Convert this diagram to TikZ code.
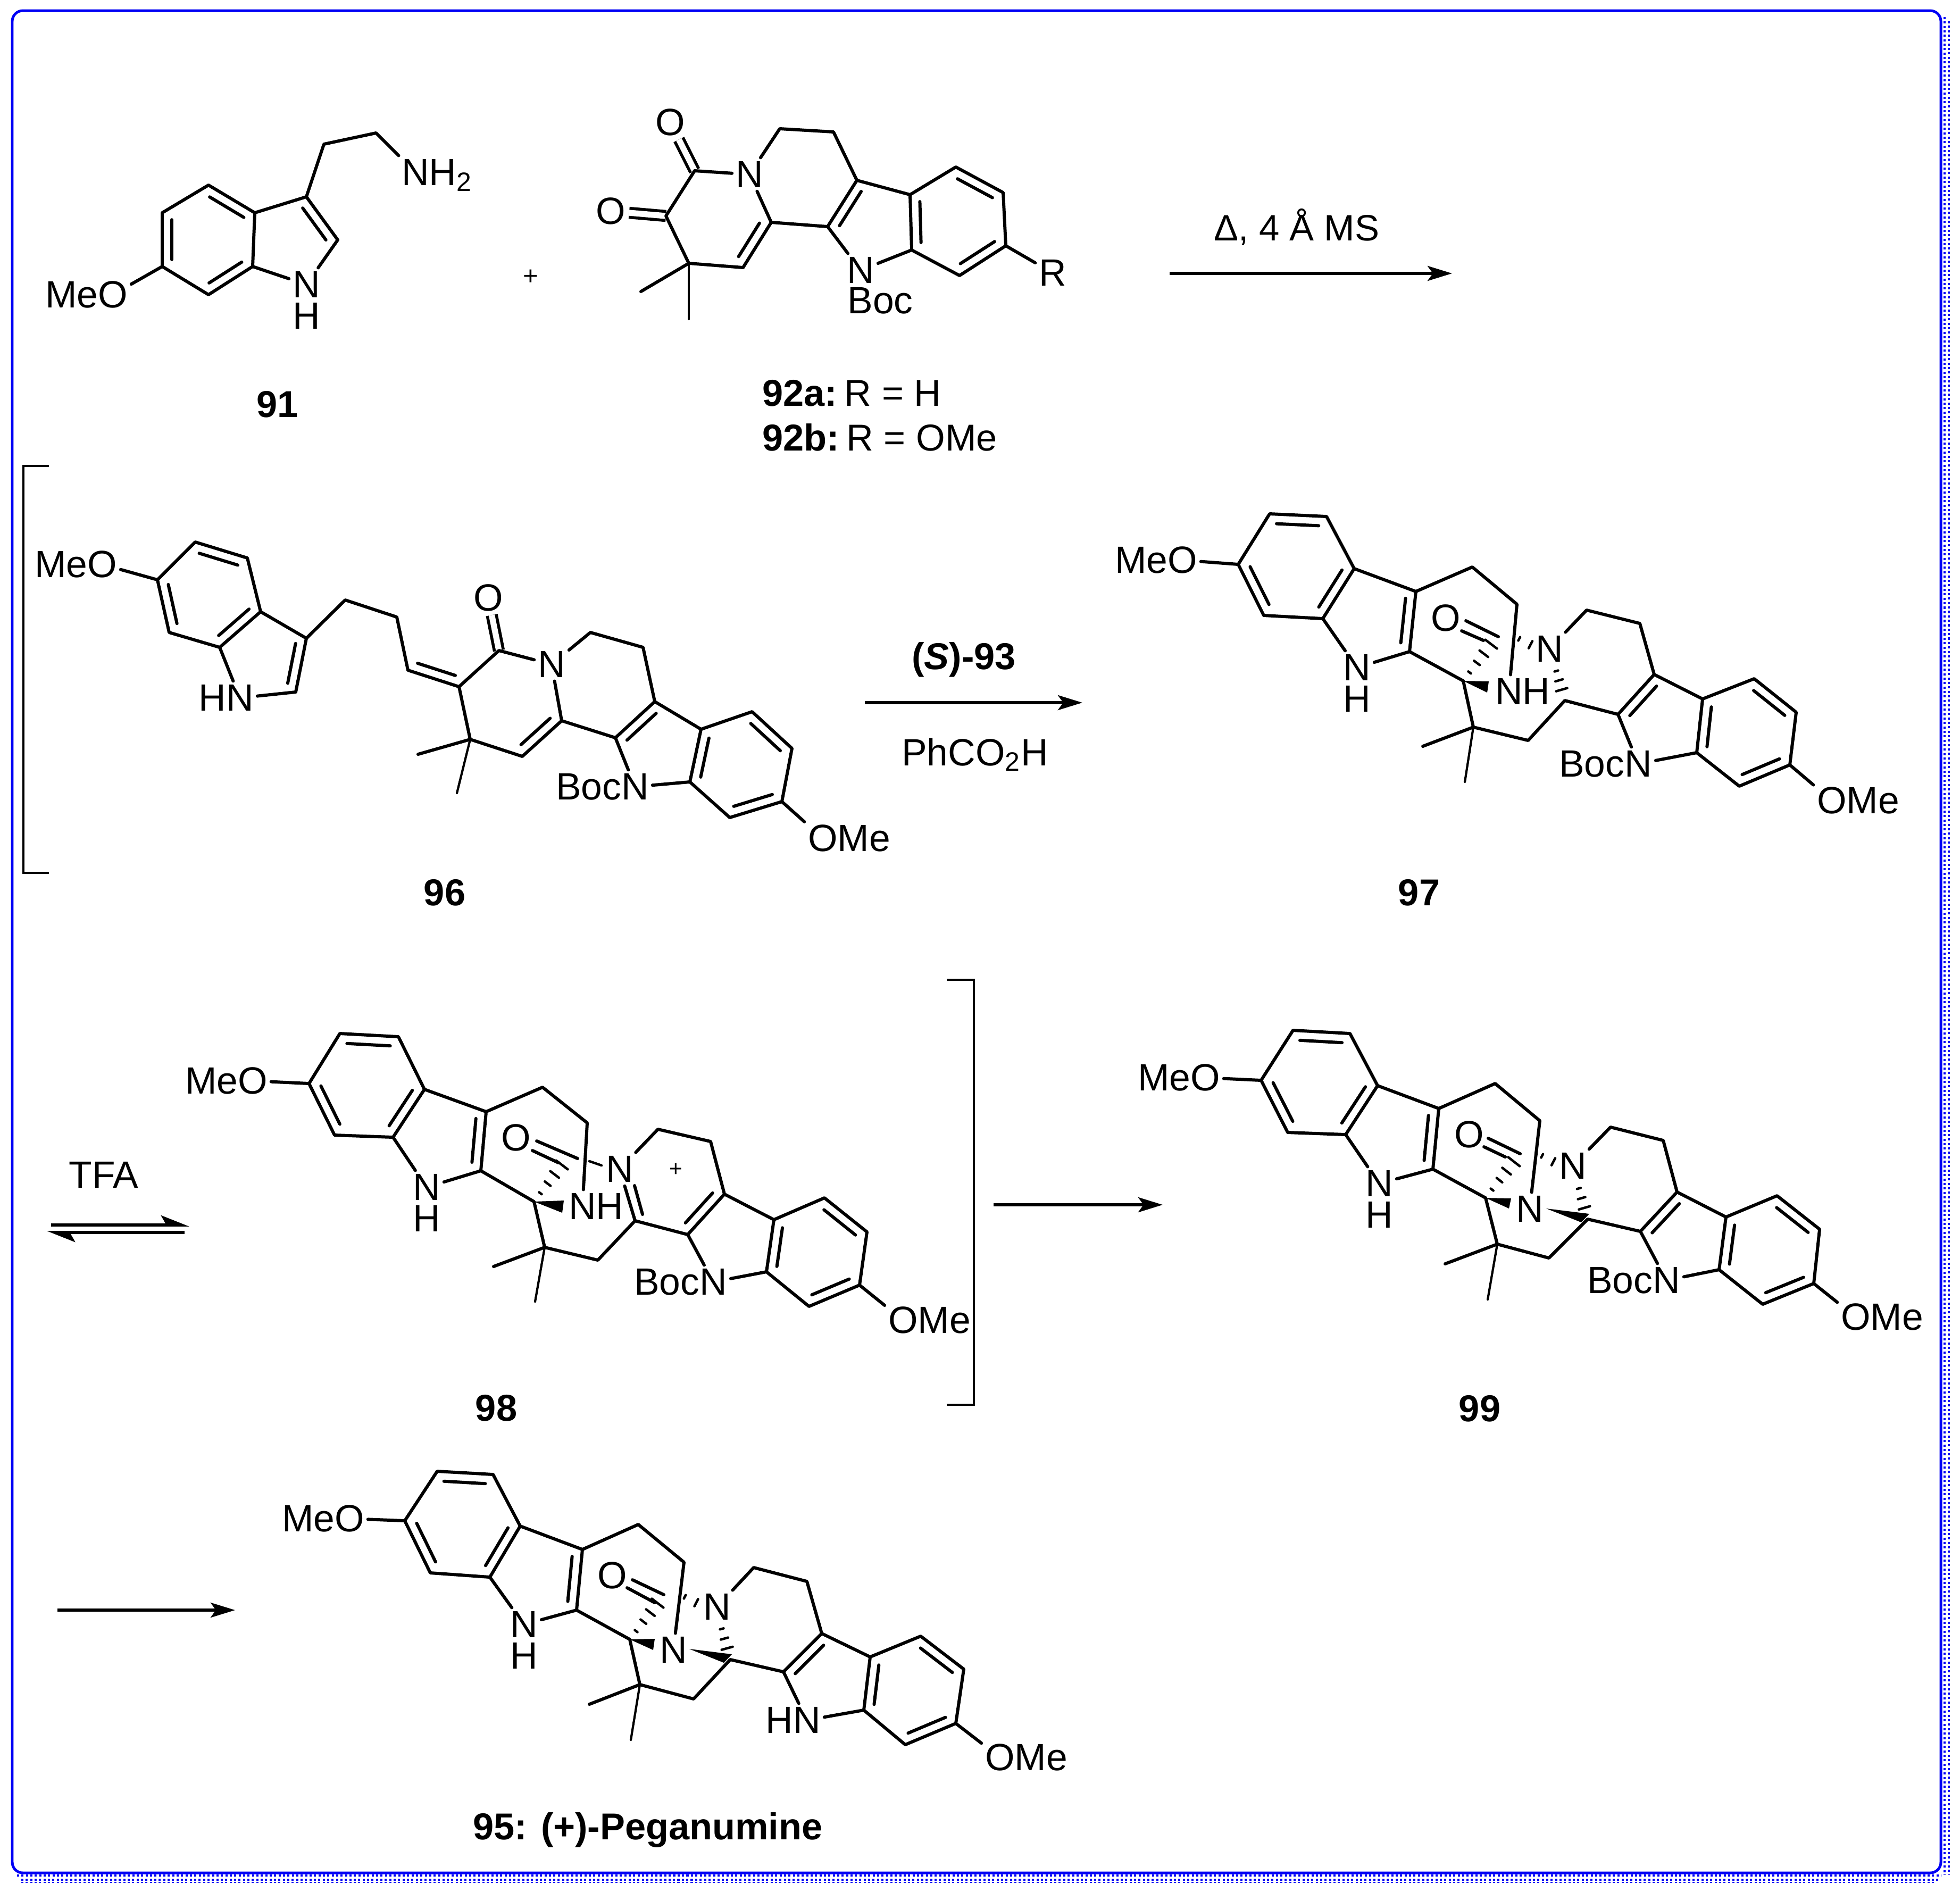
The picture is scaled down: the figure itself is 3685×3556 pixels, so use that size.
\documentclass[tikz,border=0pt]{standalone}
\usepackage{fontspec}
\setmainfont{Liberation Sans}
\usetikzlibrary{arrows.meta,calc,positioning}
\definecolor{frameblue}{RGB}{0,0,245}
\tikzset{
  bond/.style={line width=1.7pt, line cap=round, line join=round},
  thinbond/.style={line width=1.2pt, line cap=round},
  oxo/.style={line width=1.6pt, double, double distance=3.2pt},
  hashbond/.style={line width=1.3pt, line cap=round},
  atom/.style={font=\fontsize{20.3}{24}\selectfont, inner sep=.07cm, outer sep=0pt},
  tag/.style={font=\fontsize{20.3}{24}\selectfont, inner sep=0pt, outer sep=0pt},
  cpd/.style={font=\fontsize{20}{24}\selectfont\bfseries, inner sep=0pt},
  reagent/.style={font=\fontsize{20.3}{24}\selectfont, inner sep=0pt, anchor=base},
  charge/.style={font=\fontsize{12}{14}\selectfont, inner sep=0pt},
  rxn/.style={line width=1.5pt, -{Stealth[length=.46cm, width=.28cm, inset=.1cm]}},
  eqm/.style={line width=1.6pt, -{Stealth[harpoon, length=.46cm, width=.36cm, inset=.1cm]}},
  brack/.style={line width=1.3pt},
  frame/.style={draw=frameblue, line width=1.42pt, rounded corners=.2cm},
  dots/.style={draw=frameblue, line width=1.14pt, dash pattern=on 1.14pt off 1.23pt}
}
\newcommand{\inbond}[2]{\draw[bond] ($(#1)!.13!(#2)!.18cm!90:(#2)$) -- ($(#2)!.13!(#1)!.18cm!-90:(#1)$);}
\newcommand{\hashes}[3]{\foreach \t in {#3}{\pgfmathsetmacro{\w}{\t*.15}
  \draw[hashbond] ($(#1)!\t!(#2)!\w cm!90:(#2)$) -- ($(#1)!\t!(#2)!\w cm!-90:(#2)$);}}
\begin{document}
\begin{tikzpicture}[x=.01cm, y=-.01cm]
\useasboundingbox (0,0) rectangle (3685,3556);
% frame
\draw[frame] (23,20) rectangle (3649,3521);
\draw[dots] (3656,32) -- (3656,3525);
\draw[dots] (3664,40) -- (3664,3525);
\draw[dots] (32,3526) -- (3650,3526);
\draw[dots] (40,3534) -- (3645,3534);
\draw[dots, line width=.6pt] (40,3539) -- (3640,3539);

% 91
\coordinate (91a) at (392,348); \coordinate (91b) at (479,400); \coordinate (91c) at (475,501);
\coordinate (91d) at (392,554); \coordinate (91e) at (305,501); \coordinate (91f) at (305,400);
\coordinate (91g) at (576,370); \coordinate (91h) at (635,451); \coordinate (91i) at (609,271);
\coordinate (91j) at (707,250);
\node[atom] (91N) at (576,535) {N};
\node[tag, below=.03cm of 91N] (91H) {H};
\node[atom] (91A) at (781,324) {N};
\node[tag, base right=-.07cm of 91A] (91B) {H\textsubscript{2}};
\node[atom] (91O) at (212,554) {O};
\node[tag, base left=-.07cm of 91O] (91Me) {Me};
\draw[bond] (91a) -- (91b) -- (91c) -- (91d) -- (91e) -- (91f) -- cycle;
\draw[bond] (91b) -- (91g) -- (91h) -- (91N) -- (91c);
\draw[bond] (91g) -- (91i) -- (91j) -- (91A);
\draw[bond] (91e) -- (91O);
\inbond{91b}{91a} \inbond{91f}{91e} \inbond{91d}{91c} \inbond{91h}{91g}
\node[cpd] (l91) at (522,760) {91};
\node[charge, font=\fontsize{14}{16}\selectfont] (plus) at (998,521) {+};

% 92
\coordinate (92a) at (1306,321); \coordinate (92b) at (1466,242); \coordinate (92c) at (1567,248);
\coordinate (92d) at (1611,339); \coordinate (92e) at (1711,366); \coordinate (92f) at (1797,314);
\coordinate (92g) at (1886,362); \coordinate (92h) at (1891,462); \coordinate (92i) at (1804,518);
\coordinate (92j) at (1714,470); \coordinate (92k) at (1556,426); \coordinate (92l) at (1450,418);
\coordinate (92m) at (1397,503); \coordinate (92n) at (1295,495); \coordinate (92o) at (1252,406);
\coordinate (92p) at (1205,548); \coordinate (92q) at (1295,600);
\node[atom] (92N) at (1409,328) {N};
\node[atom] (92M) at (1618,508) {N};
\node[tag] (92Boc) at (1655,565) {Boc};
\node[atom] (92O) at (1260,230) {O};
\node[atom] (92P) at (1148,397) {O};
\node[atom] (92R) at (1979,513) {R};
\draw[oxo] (92O) -- (92a);
\draw[oxo] (92P) -- (92o);
\draw[bond] (92a) -- (92N) -- (92b) -- (92c) -- (92d) -- (92e) -- (92f) -- (92g) -- (92h) -- (92i) -- (92j) -- (92M) -- (92k) -- (92l) -- (92m) -- (92n) -- (92o) -- (92a);
\draw[bond] (92l) -- (92N);
\draw[bond] (92d) -- (92k);
\draw[bond] (92e) -- (92j);
\draw[bond] (92n) -- (92p);
\draw[thinbond] (92n) -- (92q);
\draw[bond] (92h) -- (92R);
\inbond{92d}{92k} \inbond{92e}{92j} \inbond{92i}{92h} \inbond{92g}{92f} \inbond{92m}{92l}
\node[tag, anchor=west] (l92a) at (1433,739) {\fontsize{20}{24}\selectfont\textbf{92a:}\hspace{.2em}R = H};
\node[tag, anchor=west] (l92b) at (1433,822) {\fontsize{20}{24}\selectfont\textbf{92b:}\hspace{.2em}R = OMe};

% first arrow
\coordinate (r1a) at (2199,514); \coordinate (r1b) at (2730,514);
\draw[rxn] (r1a) -- (r1b);
\node[reagent, font=\fontsize{19.6}{24}\selectfont] (r1t) at (2438,452) {Δ, 4 Å MS};

% left bracket
\coordinate (b1a) at (92,876); \coordinate (b1b) at (44,876); \coordinate (b1c) at (44,1641); \coordinate (b1d) at (92,1641);
\draw[brack] (b1a) -- (b1b) -- (b1c) -- (b1d);

% 96
\coordinate (96a) at (296,1090); \coordinate (96b) at (367,1019); \coordinate (96c) at (465,1049);
\coordinate (96d) at (490,1150); \coordinate (96e) at (413,1217); \coordinate (96f) at (318,1189);
\coordinate (96g) at (576,1200); \coordinate (96h) at (556,1301); \coordinate (96i) at (649,1128);
\coordinate (96j) at (746,1160); \coordinate (96k) at (767,1260); \coordinate (96l) at (863,1291);
\coordinate (96m) at (938,1223); \coordinate (96n) at (1110,1189); \coordinate (96o) at (1209,1217);
\coordinate (96p) at (1231,1319); \coordinate (96q) at (1318,1371); \coordinate (96r) at (1414,1338);
\coordinate (96s) at (1489,1407); \coordinate (96t) at (1470,1507); \coordinate (96u) at (1372,1537);
\coordinate (96v) at (1297,1470); \coordinate (96w) at (1157,1387); \coordinate (96x) at (1056,1355);
\coordinate (96y) at (982,1422); \coordinate (96z) at (884,1390);
\coordinate (96me) at (786,1418); \coordinate (96mf) at (859,1491);
\node[atom] (96O) at (192,1061) {O};
\node[tag, base left=-.07cm of 96O] (96Me) {Me};
\node[atom] (96N) at (451,1312) {N};
\node[tag, base left=-.07cm of 96N] (96H) {H};
\node[atom] (96P) at (918,1124) {O};
\node[atom] (96Q) at (1037,1249) {N};
\node[atom] (96R) at (1194,1479) {N};
\node[tag, base left=-.07cm of 96R] (96Boc) {Boc};
\node[atom] (96S) at (1547,1576) {O};
\node[tag, base right=-.07cm of 96S] (96Mf) {Me};
\draw[oxo] (96P) -- (96m);
\draw[bond] (96O) -- (96a) -- (96b) -- (96c) -- (96d) -- (96e) -- (96f) -- (96a);
\draw[bond] (96d) -- (96g) -- (96h) -- (96N) -- (96e);
\draw[bond] (96g) -- (96i) -- (96j) -- (96k) -- (96l) -- (96m) -- (96Q) -- (96n) -- (96o) -- (96p) -- (96q) -- (96r) -- (96s) -- (96t) -- (96u) -- (96v) -- (96R) -- (96w) -- (96x) -- (96Q);
\draw[bond] (96p) -- (96w);
\draw[bond] (96q) -- (96v);
\draw[bond] (96t) -- (96S);
\draw[bond] (96l) -- (96z) -- (96y) -- (96x);
\draw[bond] (96z) -- (96me);
\draw[thinbond] (96z) -- (96mf);
\inbond{96c}{96b} \inbond{96a}{96f} \inbond{96e}{96d} \inbond{96h}{96g} \inbond{96k}{96l}
\inbond{96y}{96x} \inbond{96p}{96w} \inbond{96q}{96v} \inbond{96u}{96t} \inbond{96s}{96r}
\node[cpd] (l96) at (836,1678) {96};

% second arrow
\coordinate (r2a) at (1626,1321); \coordinate (r2b) at (2035,1321);
\draw[rxn] (r2a) -- (r2b);
\node[reagent] (r2t) at (1812,1258) {\fontsize{20}{24}\selectfont\bfseries(\textit{S})-93};
\node[reagent] (r2u) at (1833,1439) {PhCO\textsubscript{2}H};

% 97
\coordinate (97a) at (2328,1061); \coordinate (97b) at (2387,966); \coordinate (97c) at (2494,971);
\coordinate (97d) at (2546,1069); \coordinate (97e) at (2487,1163); \coordinate (97f) at (2376,1157);
\coordinate (97g) at (2662,1112); \coordinate (97h) at (2650,1225); \coordinate (97i) at (2768,1066);
\coordinate (97j) at (2852,1136); \coordinate (97Q) at (2751,1280);
\coordinate (97k1) at (2756,1167); \coordinate (97k2) at (2817,1197);
\coordinate (97k3) at (2748,1186); \coordinate (97k4) at (2789,1204);
\coordinate (97l) at (2983,1147); \coordinate (97m) at (3083,1172); \coordinate (97n) at (3110,1268);
\coordinate (97o) at (3201,1314); \coordinate (97p) at (3298,1276); \coordinate (97q) at (3377,1339);
\coordinate (97r) at (3365,1438); \coordinate (97s) at (3270,1478); \coordinate (97t) at (3190,1415);
\coordinate (97u) at (3042,1343); \coordinate (97v) at (2942,1317); \coordinate (97w) at (2873,1392);
\coordinate (97x) at (2770,1367); \coordinate (97me) at (2675,1403); \coordinate (97mf) at (2754,1470);
\coordinate (97w1) at (2799,1281); \coordinate (97w2) at (2796,1302);
\coordinate (97c1) at (2808,1205); \coordinate (97c2) at (2835,1190); \coordinate (97c3) at (2920,1234);
\coordinate (97c4) at (2921,1244);
\node[atom] (97O) at (2223,1053) {O};
\node[tag, base left=-.07cm of 97O] (97Me) {Me};
\node[atom] (97N) at (2551,1255) {N};
\node[tag, below=.03cm of 97N] (97H) {H};
\node[atom] (97A) at (2837,1300) {N};
\node[tag, base right=-.07cm of 97A] (97B) {H};
\node[atom] (97P) at (2718,1162) {O};
\node[atom] (97C) at (2913,1220) {N};
\node[atom] (97R) at (3080,1436) {N};
\node[tag, base left=-.07cm of 97R] (97Boc) {Boc};
\node[atom] (97S) at (3444,1505) {O};
\node[tag, base right=-.07cm of 97S] (97Mf) {Me};
\draw[bond] (97O) -- (97a) -- (97b) -- (97c) -- (97d) -- (97e) -- (97f) -- (97a);
\draw[bond] (97d) -- (97g) -- (97h) -- (97N) -- (97e);
\draw[bond] (97g) -- (97i) -- (97j) -- (97A);
\draw[bond] (97h) -- (97Q) -- (97x) -- (97w) -- (97v) -- (97u) -- (97R) -- (97t) -- (97s) -- (97r) -- (97q) -- (97p) -- (97o) -- (97n) -- (97m) -- (97l) -- (97C);
\draw[bond] (97n) -- (97u);
\draw[bond] (97o) -- (97t);
\draw[bond] (97r) -- (97S);
\draw[bond] (97x) -- (97me);
\draw[thinbond] (97x) -- (97mf);
\draw[bond] (97k1) -- (97k2);
\draw[bond] (97k3) -- (97k4);
\fill (97Q) -- (97w1) -- (97w2) -- cycle;
\hashes{97Q}{97c1}{.21,.45,.68,.92}
\hashes{97c2}{97c3}{.25,.5}
\hashes{97c4}{97v}{.24,.48,.72}
\inbond{97c}{97b} \inbond{97a}{97f} \inbond{97e}{97d} \inbond{97h}{97g}
\inbond{97n}{97u} \inbond{97o}{97t} \inbond{97s}{97r} \inbond{97q}{97p}
\node[cpd] (l97) at (2668,1678) {97};

% equilibrium
\coordinate (e1a) at (96,2303); \coordinate (e1b) at (356,2303);
\coordinate (e2a) at (347,2317); \coordinate (e2b) at (88,2317);
\draw[eqm] (e1a) -- (e1b);
\draw[eqm] (e2a) -- (e2b);
\node[reagent] (e1t) at (195,2233) {TFA};

% 98
\coordinate (98a) at (581,2037); \coordinate (98b) at (639,1943); \coordinate (98c) at (749,1949);
\coordinate (98d) at (798,2048); \coordinate (98e) at (739,2138); \coordinate (98f) at (629,2134);
\coordinate (98g) at (914,2090); \coordinate (98h) at (904,2201); \coordinate (98i) at (1020,2044);
\coordinate (98j) at (1104,2111); \coordinate (98Q) at (1004,2259);
\coordinate (98k1) at (1009,2145); \coordinate (98k2) at (1086,2178);
\coordinate (98k3) at (1001,2163); \coordinate (98k4) at (1050,2186);
\coordinate (98l) at (1237,2123); \coordinate (98m) at (1336,2146); \coordinate (98n) at (1362,2245);
\coordinate (98o) at (1455,2293); \coordinate (98p) at (1550,2252); \coordinate (98q) at (1630,2316);
\coordinate (98r) at (1616,2416); \coordinate (98s) at (1521,2456); \coordinate (98t) at (1441,2391);
\coordinate (98u) at (1293,2321); \coordinate (98v) at (1194,2295); \coordinate (98w) at (1124,2369);
\coordinate (98x) at (1024,2345); \coordinate (98me) at (928,2381); \coordinate (98mf) at (1006,2447);
\coordinate (98w1) at (1060,2257); \coordinate (98w2) at (1057,2280);
\coordinate (98c1) at (1061,2184); \coordinate (98d1) at (1108,2183); \coordinate (98d2) at (1131,2191);
\coordinate (98z1) at (1208,2283); \coordinate (98z2) at (1193,2229);
\node[atom] (98O) at (475,2032) {O};
\node[tag, base left=-.07cm of 98O] (98Me) {Me};
\node[atom] (98N) at (802,2232) {N};
\node[tag, below=.03cm of 98N] (98H) {H};
\node[atom] (98A) at (1095,2268) {N};
\node[tag, base right=-.07cm of 98A] (98B) {H};
\node[atom] (98P) at (970,2139) {O};
\node[atom] (98C) at (1165,2198) {N};
\node[atom] (98R) at (1341,2410) {N};
\node[tag, base left=-.07cm of 98R] (98Boc) {Boc};
\node[atom] (98S) at (1698,2482) {O};
\node[tag, base right=-.07cm of 98S] (98Mf) {Me};
\node[charge] (98plus) at (1271,2199) {+};
\draw[bond] (98O) -- (98a) -- (98b) -- (98c) -- (98d) -- (98e) -- (98f) -- (98a);
\draw[bond] (98d) -- (98g) -- (98h) -- (98N) -- (98e);
\draw[bond] (98g) -- (98i) -- (98j) -- (98A);
\draw[bond] (98h) -- (98Q) -- (98x) -- (98w) -- (98v) -- (98u) -- (98R) -- (98t) -- (98s) -- (98r) -- (98q) -- (98p) -- (98o) -- (98n) -- (98m) -- (98l) -- (98C) -- (98v);
\draw[bond] (98n) -- (98u);
\draw[bond] (98o) -- (98t);
\draw[bond] (98r) -- (98S);
\draw[bond] (98x) -- (98me);
\draw[thinbond] (98x) -- (98mf);
\draw[bond] (98k1) -- (98k2);
\draw[bond] (98k3) -- (98k4);
\draw[bond] (98z1) -- (98z2);
\draw[hashbond] (98d1) -- (98d2);
\fill (98Q) -- (98w1) -- (98w2) -- cycle;
\hashes{98Q}{98c1}{.21,.45,.68,.92}
\inbond{98c}{98b} \inbond{98a}{98f} \inbond{98e}{98d} \inbond{98h}{98g}
\inbond{98u}{98n} \inbond{98o}{98t} \inbond{98s}{98r} \inbond{98q}{98p}
\node[cpd] (l98) at (933,2647) {98};

% right bracket
\coordinate (b2a) at (1780,1842); \coordinate (b2b) at (1831,1842); \coordinate (b2c) at (1831,2641); \coordinate (b2d) at (1780,2641);
\draw[brack] (b2a) -- (b2b) -- (b2c) -- (b2d);

% third arrow
\coordinate (r3a) at (1868,2265); \coordinate (r3b) at (2186,2265);
\draw[rxn] (r3a) -- (r3b);

% 99
\coordinate (99a) at (2371,2031); \coordinate (99b) at (2431,1937); \coordinate (99c) at (2538,1943);
\coordinate (99d) at (2590,2041); \coordinate (99e) at (2530,2133); \coordinate (99f) at (2421,2129);
\coordinate (99g) at (2705,2084); \coordinate (99h) at (2694,2198); \coordinate (99i) at (2811,2037);
\coordinate (99j) at (2895,2107); \coordinate (99Q) at (2793,2252);
\coordinate (99k1) at (2798,2140); \coordinate (99k2) at (2858,2169);
\coordinate (99k3) at (2790,2156); \coordinate (99k4) at (2830,2175);
\coordinate (99l) at (3028,2119); \coordinate (99m) at (3127,2144); \coordinate (99n) at (3153,2241);
\coordinate (99o) at (3245,2288); \coordinate (99p) at (3341,2248); \coordinate (99q) at (3421,2311);
\coordinate (99r) at (3410,2413); \coordinate (99s) at (3314,2452); \coordinate (99t) at (3232,2387);
\coordinate (99u) at (3084,2315); \coordinate (99v) at (2985,2292); \coordinate (99w) at (2912,2365);
\coordinate (99x) at (2815,2339); \coordinate (99me) at (2717,2376); \coordinate (99mf) at (2797,2443);
\coordinate (99w1) at (2841,2253); \coordinate (99w2) at (2837,2272);
\coordinate (99w3) at (2907,2272); \coordinate (99w4) at (2988,2282); \coordinate (99w5) at (2973,2298);
\coordinate (99c1) at (2851,2178); \coordinate (99c2) at (2878,2162); \coordinate (99c3) at (2963,2206);
\coordinate (99c4) at (2963,2216);
\node[atom] (99O) at (2266,2026) {O};
\node[tag, base left=-.07cm of 99O] (99Me) {Me};
\node[atom] (99N) at (2593,2225) {N};
\node[tag, below=.03cm of 99N] (99H) {H};
\node[atom] (99A) at (2876,2273) {N};
\node[atom] (99P) at (2762,2133) {O};
\node[atom] (99C) at (2957,2192) {N};
\node[atom] (99R) at (3133,2407) {N};
\node[tag, base left=-.07cm of 99R] (99Boc) {Boc};
\node[atom] (99S) at (3489,2476) {O};
\node[tag, base right=-.07cm of 99S] (99Mf) {Me};
\draw[bond] (99O) -- (99a) -- (99b) -- (99c) -- (99d) -- (99e) -- (99f) -- (99a);
\draw[bond] (99d) -- (99g) -- (99h) -- (99N) -- (99e);
\draw[bond] (99g) -- (99i) -- (99j) -- (99A);
\draw[bond] (99h) -- (99Q) -- (99x) -- (99w) -- (99v) -- (99u) -- (99R) -- (99t) -- (99s) -- (99r) -- (99q) -- (99p) -- (99o) -- (99n) -- (99m) -- (99l) -- (99C);
\draw[bond] (99n) -- (99u);
\draw[bond] (99o) -- (99t);
\draw[bond] (99r) -- (99S);
\draw[bond] (99x) -- (99me);
\draw[thinbond] (99x) -- (99mf);
\draw[bond] (99k1) -- (99k2);
\draw[bond] (99k3) -- (99k4);
\fill (99Q) -- (99w1) -- (99w2) -- cycle;
\fill (99w3) -- (99w4) -- (99w5) -- cycle;
\hashes{99Q}{99c1}{.21,.45,.68,.92}
\hashes{99c2}{99c3}{.25,.5}
\hashes{99c4}{99v}{.24,.48,.72}
\inbond{99c}{99b} \inbond{99a}{99f} \inbond{99e}{99d} \inbond{99h}{99g}
\inbond{99n}{99u} \inbond{99o}{99t} \inbond{99s}{99r} \inbond{99q}{99p}
\node[cpd] (l99) at (2782,2648) {99};

% fourth arrow
\coordinate (r4a) at (108,3027); \coordinate (r4b) at (442,3027);
\draw[rxn] (r4a) -- (r4b);

% 95
\coordinate (95a) at (761,2859); \coordinate (95b) at (822,2766); \coordinate (95c) at (927,2772);
\coordinate (95d) at (978,2869); \coordinate (95e) at (921,2965); \coordinate (95f) at (809,2957);
\coordinate (95g) at (1095,2913); \coordinate (95h) at (1084,3027); \coordinate (95i) at (1200,2866);
\coordinate (95j) at (1286,2937); \coordinate (95Q) at (1184,3082);
\coordinate (95k1) at (1189,2970); \coordinate (95k2) at (1248,2998);
\coordinate (95k3) at (1179,2985); \coordinate (95k4) at (1231,3013);
\coordinate (95l) at (1417,2947); \coordinate (95m) at (1517,2973); \coordinate (95n) at (1545,3071);
\coordinate (95o) at (1636,3115); \coordinate (95p) at (1731,3076); \coordinate (95q) at (1812,3138);
\coordinate (95r) at (1797,3240); \coordinate (95s) at (1702,3280); \coordinate (95t) at (1624,3215);
\coordinate (95u) at (1473,3143); \coordinate (95v) at (1373,3120); \coordinate (95w) at (1304,3194);
\coordinate (95x) at (1203,3167); \coordinate (95me) at (1108,3204); \coordinate (95mf) at (1186,3271);
\coordinate (95w1) at (1231,3081); \coordinate (95w2) at (1228,3102);
\coordinate (95w3) at (1296,3100); \coordinate (95w4) at (1376,3110); \coordinate (95w5) at (1361,3126);
\coordinate (95c1) at (1241,3008); \coordinate (95c2) at (1266,2991); \coordinate (95c3) at (1352,3035);
\coordinate (95c4) at (1352,3044);
\node[atom] (95O) at (657,2855) {O};
\node[tag, base left=-.07cm of 95O] (95Me) {Me};
\node[atom] (95N) at (985,3054) {N};
\node[tag, below=.03cm of 95N] (95H) {H};
\node[atom] (95A) at (1266,3102) {N};
\node[atom] (95P) at (1151,2962) {O};
\node[atom] (95C) at (1348,3021) {N};
\node[atom] (95R) at (1517,3234) {N};
\node[tag, base left=-.07cm of 95R] (95G) {H};
\node[atom] (95S) at (1880,3304) {O};
\node[tag, base right=-.07cm of 95S] (95Mf) {Me};
\draw[bond] (95O) -- (95a) -- (95b) -- (95c) -- (95d) -- (95e) -- (95f) -- (95a);
\draw[bond] (95d) -- (95g) -- (95h) -- (95N) -- (95e);
\draw[bond] (95g) -- (95i) -- (95j) -- (95A);
\draw[bond] (95h) -- (95Q) -- (95x) -- (95w) -- (95v) -- (95u) -- (95R) -- (95t) -- (95s) -- (95r) -- (95q) -- (95p) -- (95o) -- (95n) -- (95m) -- (95l) -- (95C);
\draw[bond] (95n) -- (95u);
\draw[bond] (95o) -- (95t);
\draw[bond] (95r) -- (95S);
\draw[bond] (95x) -- (95me);
\draw[thinbond] (95x) -- (95mf);
\draw[bond] (95k1) -- (95k2);
\draw[bond] (95k3) -- (95k4);
\fill (95Q) -- (95w1) -- (95w2) -- cycle;
\fill (95w3) -- (95w4) -- (95w5) -- cycle;
\hashes{95Q}{95c1}{.21,.45,.68,.92}
\hashes{95c2}{95c3}{.25,.5}
\hashes{95c4}{95v}{.24,.48,.72}
\inbond{95c}{95b} \inbond{95a}{95f} \inbond{95e}{95d} \inbond{95h}{95g}
\inbond{95n}{95u} \inbond{95o}{95t} \inbond{95s}{95r} \inbond{95q}{95p}
\node[cpd] (l95) at (1218,3440) {95: (+)-Peganumine};
\end{tikzpicture}
\end{document}
